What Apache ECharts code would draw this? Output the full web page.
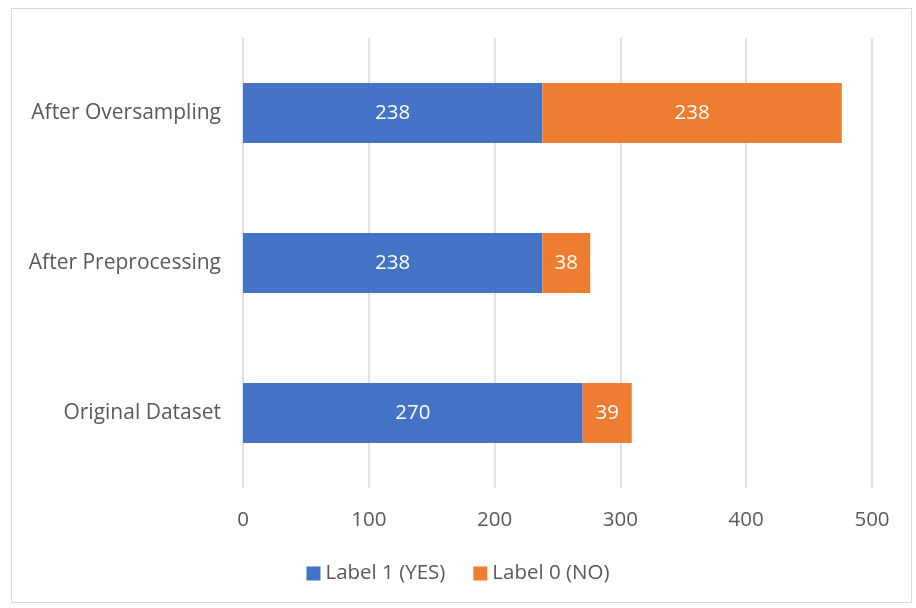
<!DOCTYPE html>
<html>
<head>
<meta charset="utf-8">
<script src="https://cdn.jsdelivr.net/npm/echarts@6/dist/echarts.min.js"></script>
<style>
  html, body { margin: 0; padding: 0; background: #fff; }
  #frame { position: absolute; left: 11px; top: 8px; width: 901px; height: 595px; border: 1px solid #d9d9d9; box-sizing: border-box; }
  #main { width: 916px; height: 608px; }
</style>
</head>
<body>
<div id="frame"></div>
<div id="main"></div>
<script>
// categories bottom -> top
var categories = ['Original Dataset', 'After Preprocessing', 'After Oversampling'];
var labelYes = [270, 238, 238];
var labelNo = [39, 38, 238];
var xTicks = { min: 0, max: 500, interval: 100 };

var font = '"Open Sans", "Noto Sans", sans-serif';
var myChart = echarts.init(document.getElementById('main'));
myChart.setOption({
  animation: false,
  color: ['#4472C4', '#ED7D31'],
  grid: { left: 243, right: 44, top: 38, bottom: 120 },
  legend: {
    bottom: 19,
    left: 'center',
    itemWidth: 14,
    itemHeight: 14,
    itemGap: 28,
    icon: 'rect',
    textStyle: { fontSize: 20.5, color: '#595959', fontFamily: font }
  },
  xAxis: {
    type: 'value',
    min: xTicks.min,
    max: xTicks.max,
    interval: xTicks.interval,
    axisLine: { show: false },
    axisTick: { show: false },
    axisLabel: { fontSize: 20.5, color: '#595959', fontFamily: font, margin: 22 },
    splitLine: { show: true, lineStyle: { color: '#d9d9d9', width: 1.5 } }
  },
  yAxis: {
    type: 'category',
    data: categories,
    axisLine: { show: false },
    axisTick: { show: false },
    axisLabel: { fontSize: 21, color: '#595959', fontFamily: font, margin: 22 }
  },
  series: [
    {
      name: 'Label 1 (YES)',
      type: 'bar',
      stack: 'total',
      barWidth: '40%',
      data: labelYes,
      label: { show: true, position: 'inside', color: '#fff', fontSize: 20.5, fontFamily: font }
    },
    {
      name: 'Label 0 (NO)',
      type: 'bar',
      stack: 'total',
      barWidth: '40%',
      data: labelNo,
      label: { show: true, position: 'inside', color: '#fff', fontSize: 20.5, fontFamily: font }
    }
  ]
});
</script>
</body>
</html>
